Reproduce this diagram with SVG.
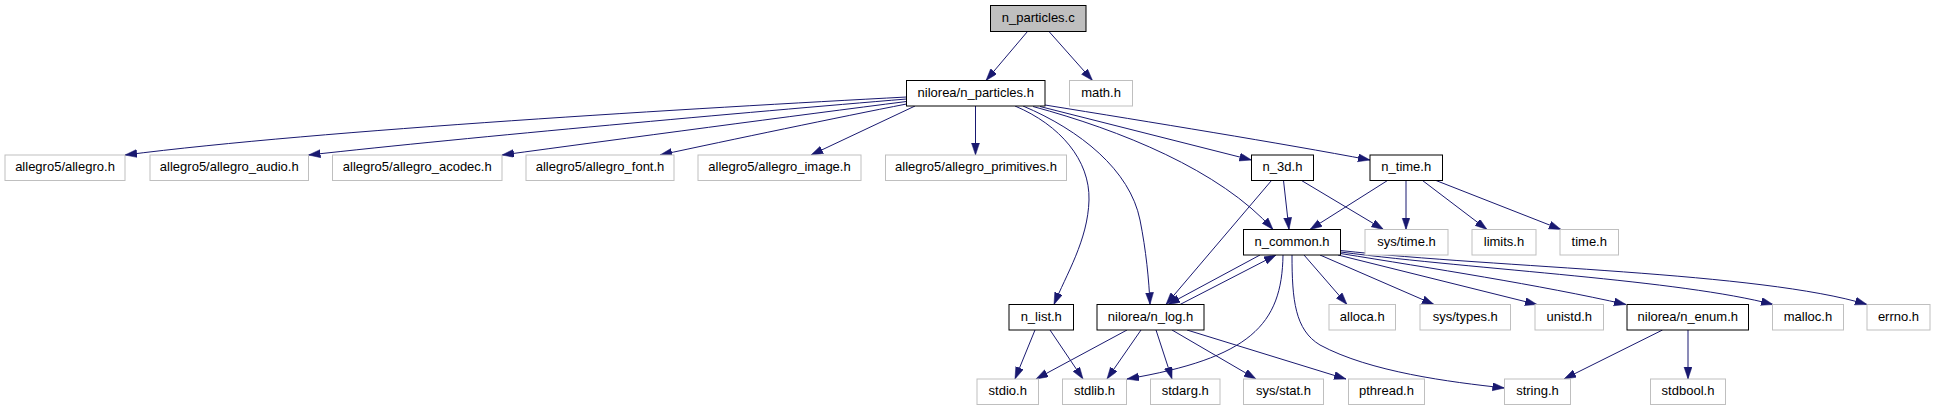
<svg xmlns="http://www.w3.org/2000/svg" width="1935" height="411" viewBox="0 0 1935 411">
<style>
  .n rect { fill: #ffffff; stroke: #000000; stroke-width: 1; }
  .sys rect { fill: #ffffff; stroke: #bfbfbf; stroke-width: 1; }
  .root rect { fill: #bfbfbf; stroke: #000000; stroke-width: 1; }
  text { font-family: "Liberation Sans", Arial, sans-serif; font-size: 13px; fill: #000000; text-anchor: middle; }
  .e path { fill: none; stroke: #191970; stroke-width: 1; marker-end: url(#arr); }
</style>
<defs>
  <marker id="arr" markerUnits="userSpaceOnUse" markerWidth="13" markerHeight="9" refX="12" refY="4" orient="auto">
    <path d="M0,0 L12,4 L0,8 Z" fill="#191970" stroke="#191970" stroke-width="0.5"/>
  </marker>
</defs>
<rect x="0" y="0" width="1935" height="411" fill="#ffffff"/>

<g id="connectors" class="e">
  <path d="M1027.5,31.5 L986,80.5"/>
  <path d="M1049,31.5 L1092.5,80.5"/>
  <path d="M906.5,97 C700,108 320,130 125,155"/>
  <path d="M906.5,99 C750,112 470,137 308.5,155"/>
  <path d="M906.5,101.5 C800,115 620,139 502,155"/>
  <path d="M906.5,104 C840,117 730,140 660,155"/>
  <path d="M915,106 L811,155"/>
  <path d="M975.5,106 L975.5,155"/>
  <path d="M1015,106 C1060,125 1090,160 1089,200 C1088,240 1066,275 1054,304.5"/>
  <path d="M1023,106 C1080,130 1130,170 1140,220 C1146,250 1149,280 1150,304.5"/>
  <path d="M1033,106.5 C1120,130 1220,170 1273,229.5"/>
  <path d="M1040,106.5 L1251.5,160"/>
  <path d="M1045,105 C1150,122 1280,143 1370,160"/>
  <path d="M1283.5,180.5 L1289,229.5"/>
  <path d="M1271.5,180.5 L1166,304.5"/>
  <path d="M1301.5,180.5 L1383.5,229.5"/>
  <path d="M1387.5,180.5 L1310,229.5"/>
  <path d="M1406,180.5 L1406,229.5"/>
  <path d="M1422.5,180.5 L1487,229.5"/>
  <path d="M1436,180.5 L1561,229.5"/>
  <path d="M1260,255 L1168,304.5"/>
  <path d="M1180,304.5 L1276,255"/>
  <path d="M1283,255 C1282,325 1250,358 1127,379"/>
  <path d="M1292,255 C1292,300 1295,330 1320,345 C1370,372 1450,382 1504.5,388"/>
  <path d="M1304,255 L1347,304.5"/>
  <path d="M1320,255 L1434,304.5"/>
  <path d="M1338,255 L1537,304.5"/>
  <path d="M1340.5,253.5 C1430,268 1540,285 1626,304.5"/>
  <path d="M1340.5,252 C1480,270 1680,280 1773,304.5"/>
  <path d="M1340.5,250.5 C1500,268 1760,272 1867,304.5"/>
  <path d="M1127,330 L1036,379"/>
  <path d="M1141,330 L1107,379"/>
  <path d="M1156,330 L1172,379"/>
  <path d="M1172,330 L1256,379"/>
  <path d="M1187,330 L1346,379"/>
  <path d="M1035,330 L1015,379"/>
  <path d="M1050,330 L1083,379"/>
  <path d="M1662.5,330 L1564,379"/>
  <path d="M1688,330 L1688,379"/>
</g>

<g id="n_particles_c" class="root"><rect x="990.5" y="5.5" width="95.5" height="26"/><text x="1038.25" y="21.8">n_particles.c</text></g>
<g id="n_particles_h" class="n"><rect x="906.5" y="80.5" width="138.5" height="25.5"/><text x="975.75" y="96.8">nilorea/n_particles.h</text></g>
<g id="math_h" class="sys"><rect x="1069.5" y="80.5" width="63" height="25.5"/><text x="1101" y="96.8">math.h</text></g>

<g id="allegro_h" class="sys"><rect x="5" y="155" width="120" height="25.5"/><text x="65" y="171.3">allegro5/allegro.h</text></g>
<g id="allegro_audio_h" class="sys"><rect x="150" y="155" width="158.5" height="25.5"/><text x="229.25" y="171.3">allegro5/allegro_audio.h</text></g>
<g id="allegro_acodec_h" class="sys"><rect x="332.5" y="155" width="169.5" height="25.5"/><text x="417.25" y="171.3">allegro5/allegro_acodec.h</text></g>
<g id="allegro_font_h" class="sys"><rect x="526" y="155" width="148" height="25.5"/><text x="600" y="171.3">allegro5/allegro_font.h</text></g>
<g id="allegro_image_h" class="sys"><rect x="698" y="155" width="163" height="25.5"/><text x="779.5" y="171.3">allegro5/allegro_image.h</text></g>
<g id="allegro_primitives_h" class="sys"><rect x="885.5" y="155" width="181" height="25.5"/><text x="976" y="171.3">allegro5/allegro_primitives.h</text></g>
<g id="n_3d_h" class="n"><rect x="1251.5" y="155" width="62" height="25.5"/><text x="1282.5" y="171.3">n_3d.h</text></g>
<g id="n_time_h" class="n"><rect x="1370" y="155" width="72.5" height="25.5"/><text x="1406.25" y="171.3">n_time.h</text></g>

<g id="n_common_h" class="n"><rect x="1243.5" y="229.5" width="97" height="25.5"/><text x="1292" y="245.8">n_common.h</text></g>
<g id="sys_time_h" class="sys"><rect x="1365" y="229.5" width="83" height="25.5"/><text x="1406.5" y="245.8">sys/time.h</text></g>
<g id="limits_h" class="sys"><rect x="1472" y="229.5" width="64" height="25.5"/><text x="1504" y="245.8">limits.h</text></g>
<g id="time_h" class="sys"><rect x="1560" y="229.5" width="58.5" height="25.5"/><text x="1589.25" y="245.8">time.h</text></g>

<g id="n_list_h" class="n"><rect x="1009" y="304.5" width="64.5" height="25.5"/><text x="1041.25" y="320.8">n_list.h</text></g>
<g id="n_log_h" class="n"><rect x="1097" y="304.5" width="107" height="25.5"/><text x="1150.5" y="320.8">nilorea/n_log.h</text></g>
<g id="alloca_h" class="sys"><rect x="1329" y="304.5" width="66.5" height="25.5"/><text x="1362.25" y="320.8">alloca.h</text></g>
<g id="sys_types_h" class="sys"><rect x="1420" y="304.5" width="90.5" height="25.5"/><text x="1465.25" y="320.8">sys/types.h</text></g>
<g id="unistd_h" class="sys"><rect x="1535" y="304.5" width="68.5" height="25.5"/><text x="1569.25" y="320.8">unistd.h</text></g>
<g id="n_enum_h" class="n"><rect x="1627" y="304.5" width="121.5" height="25.5"/><text x="1687.75" y="320.8">nilorea/n_enum.h</text></g>
<g id="malloc_h" class="sys"><rect x="1772.5" y="304.5" width="71" height="25.5"/><text x="1808" y="320.8">malloc.h</text></g>
<g id="errno_h" class="sys"><rect x="1867" y="304.5" width="63" height="25.5"/><text x="1898.5" y="320.8">errno.h</text></g>

<g id="stdio_h" class="sys"><rect x="977" y="379" width="61.5" height="25.5"/><text x="1007.75" y="395.3">stdio.h</text></g>
<g id="stdlib_h" class="sys"><rect x="1062.5" y="379" width="64" height="25.5"/><text x="1094.5" y="395.3">stdlib.h</text></g>
<g id="stdarg_h" class="sys"><rect x="1150.5" y="379" width="69.5" height="25.5"/><text x="1185.25" y="395.3">stdarg.h</text></g>
<g id="sys_stat_h" class="sys"><rect x="1243.5" y="379" width="80" height="25.5"/><text x="1283.5" y="395.3">sys/stat.h</text></g>
<g id="pthread_h" class="sys"><rect x="1348.5" y="379" width="76" height="25.5"/><text x="1386.5" y="395.3">pthread.h</text></g>
<g id="string_h" class="sys"><rect x="1504.5" y="379" width="66" height="25.5"/><text x="1537.5" y="395.3">string.h</text></g>
<g id="stdbool_h" class="sys"><rect x="1650.5" y="379" width="75" height="25.5"/><text x="1688" y="395.3">stdbool.h</text></g>
</svg>
